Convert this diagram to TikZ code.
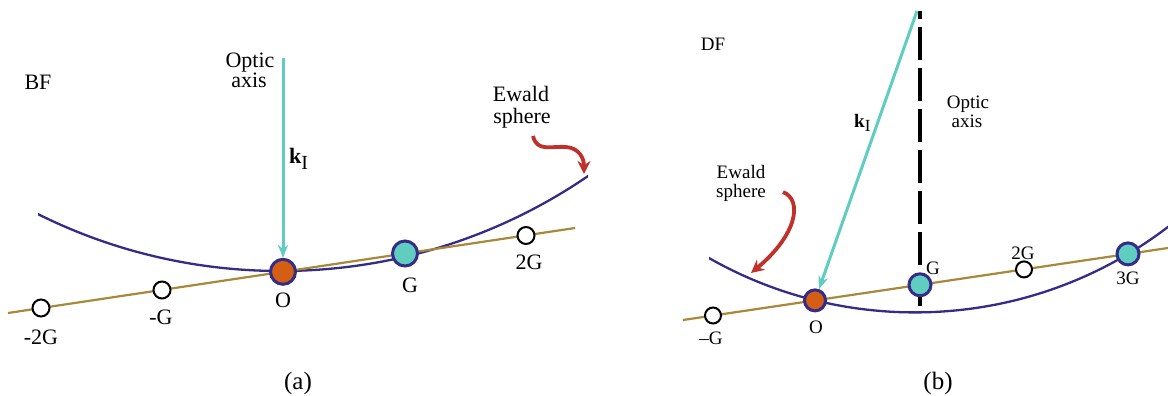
\documentclass[tikz,border=0pt]{standalone}
\usepackage{fontspec}
\setmainfont{Liberation Serif}
\usetikzlibrary{arrows.meta}
\definecolor{latt}{HTML}{A8893A}
\definecolor{ewald}{HTML}{342C86}
\definecolor{beam}{HTML}{5FCDC0}
\definecolor{origin}{HTML}{D45F14}
\definecolor{pointer}{HTML}{C1312B}
\begin{document}
\begin{tikzpicture}[x=1pt,y=-1pt,
  bftext/.style={font=\fontsize{22}{24}\selectfont, inner sep=0pt, anchor=base},
  dftext/.style={font=\fontsize{19}{21}\selectfont, inner sep=0pt, anchor=base},
  captext/.style={font=\fontsize{25}{27}\selectfont, inner sep=0pt, anchor=base},
  lattline/.style={draw=latt, line width=2.2pt},
  ewaldarc/.style={draw=ewald, line width=2.3pt},
  beamarrow/.style={draw=beam, line width=3pt, -{Stealth[length=13pt,width=10pt]}},
  pointerarrow/.style={draw=pointer, line width=3.8pt, -{Stealth[length=13pt,width=13pt]}},
  axisline/.style={draw=black, line width=3.5pt, dash pattern=on 33pt off 8pt, dash phase=25pt},
  origpt/.style={circle, fill=origin, draw=ewald, line width=3pt, inner sep=0pt},
  refpt/.style={circle, fill=beam, draw=ewald, line width=3pt, inner sep=0pt},
  emptypt/.style={circle, fill=white, draw=black, line width=2pt, inner sep=0pt}]
\useasboundingbox (0,0) rectangle (1168,396);

% ---------------- (a) BF ----------------
\coordinate (bfL1) at (8,313);
\coordinate (bfL2) at (575,228);
\begin{scope}
  \clip (38,0) rectangle (588,396);
  \draw[ewaldarc] (280.6,-273.8) circle[radius=544.8pt];
\end{scope}
\draw[lattline] (bfL1) -- (bfL2);

\node[emptypt, minimum size=17pt] (bfm2) at (41,308) {};
\node[emptypt, minimum size=17pt] (bfm1) at (162,290) {};
\node[origpt, minimum size=25pt] (bfO) at (283,271.8) {};
\node[refpt, minimum size=25pt] (bfG) at (405,253.5) {};
\node[emptypt, minimum size=17pt] (bf2G) at (526,235.5) {};

\node[bftext] (bfm2l) at (41,344) {-2G};
\node[bftext] (bfm1l) at (161,324) {-G};
\node[bftext] (bfOl) at (283,307) {O};
\node[bftext] (bfGl) at (410,292) {G};
\node[bftext] (bf2Gl) at (529,269) {2G};

\node[bftext] (bftitle) at (38,90) {BF};
\node[bftext] (bfoptic1) at (250,67) {Optic};
\node[bftext] (bfoptic2) at (249,88) {axis};
\node[bftext] (bfewald1) at (521,102) {Ewald};
\node[bftext] (bfewald2) at (522,123) {sphere};

\coordinate (bfkstart) at (283,58);
\draw[beamarrow] (bfkstart) -- (bfO);
\node[bftext, anchor=base west] (bfk) at (289,163) {\textbf{k}\raisebox{-6pt}{\fontsize{20}{20}\selectfont I}};

\coordinate (bfps) at (533,136);
\coordinate (bfpe) at (584,174);
\draw[pointerarrow] (bfps) .. controls (537,152) and (550,146) .. (566,147) .. controls (579,148) and (584,158) .. (bfpe);

\node[captext] (capa) at (298,389) {(a)};

% ---------------- (b) DF ----------------
\coordinate (dfL1) at (683,320);
\coordinate (dfL2) at (1168,248);
\begin{scope}
  \clip (709,0) rectangle (1168,396);
  \draw[ewaldarc] (915,-104.6) circle[radius=417pt];
\end{scope}
\draw[lattline] (dfL1) -- (dfL2);

\coordinate (dfax1) at (920,11);
\coordinate (dfax2) at (920,307);
\draw[axisline] (dfax1) -- (dfax2);

\node[emptypt, minimum size=16pt] (dfm1) at (713,315.5) {};
\node[origpt, minimum size=21pt] (dfO) at (815,300.4) {};
\node[refpt, minimum size=22pt] (dfG) at (920,284.8) {};
\node[emptypt, minimum size=16pt] (df2G) at (1024,269.4) {};
\node[refpt, minimum size=22pt] (df3G) at (1128,253.9) {};

\node[dftext] (dfm1l) at (711,344) {–G};
\node[dftext] (dfOl) at (816,333) {O};
\node[dftext] (dfGl) at (933,274) {G};
\node[dftext] (df2Gl) at (1023,259) {2G};
\node[dftext] (df3Gl) at (1128,284) {3G};

\node[dftext] (dftitle) at (713,51) {DF};
\node[dftext] (dfoptic1) at (968,109) {Optic};
\node[dftext] (dfoptic2) at (967,127) {axis};
\node[dftext] (dfewald1) at (741,178) {Ewald};
\node[dftext] (dfewald2) at (741,197) {sphere};

\coordinate (dfkstart) at (917,11);
\draw[beamarrow] (dfkstart) -- (dfO);
\node[dftext, anchor=base west] (dfk) at (854,127) {\textbf{k}\raisebox{-5pt}{\fontsize{17}{17}\selectfont I}};

\coordinate (dfps) at (783,192);
\coordinate (dfpe) at (751,273);
\draw[pointerarrow] (dfps) .. controls (803,200) and (797,235) .. (dfpe);

\node[captext] (capb) at (938,389) {(b)};
\end{tikzpicture}
\end{document}
